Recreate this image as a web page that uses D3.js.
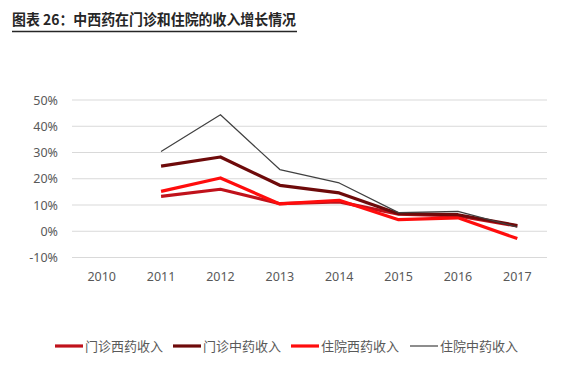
<!DOCTYPE html>
<html>
<head>
<meta charset="utf-8">
<script src="https://cdn.jsdelivr.net/npm/d3@7"></script>
<style>
  body { margin: 0; background: #fff; }
  text { font-family: "Noto Sans", "Noto Sans CJK SC", sans-serif; }
</style>
</head>
<body>
<script>
// 画布大小
const width = 565;
const height = 371;

// 数据
const years = ['2010', '2011', '2012', '2013', '2014', '2015', '2016', '2017'];
const yTicks = [-0.1, 0, 0.1, 0.2, 0.3, 0.4, 0.5];
const seriesNames = ['门诊西药收入', '门诊中药收入', '住院西药收入', '住院中药收入'];
const mzXiyao = [null, 0.133, 0.160, 0.105, 0.112, 0.065, 0.058, 0.020];
const mzZhongyao = [null, 0.248, 0.283, 0.175, 0.146, 0.067, 0.063, 0.022];
const zyXiyao = [null, 0.152, 0.203, 0.104, 0.118, 0.044, 0.051, -0.028];
const zyZhongyao = [null, 0.304, 0.444, 0.235, 0.184, 0.071, 0.076, 0.016];

const seriesValues = [mzXiyao, mzZhongyao, zyXiyao, zyZhongyao];
const colors = ['#c0121b', '#6e0a0a', '#ff0d0d', '#404040'];
const strokeW = [3.2, 3.2, 3.2, 1.2];

const svg = d3.select('body').append('svg')
  .attr('width', width)
  .attr('height', height);

// 标题
svg.append('text')
  .attr('x', 12)
  .attr('y', 25)
  .attr('font-size', 14.3)
  .attr('font-weight', 'bold')
  .attr('fill', '#262626')
  .attr('textLength', 284)
  .attr('lengthAdjust', 'spacingAndGlyphs')
  .style('font-family', '"Noto Sans CJK SC", sans-serif')
  .text('图表 26：中西药在门诊和住院的收入增长情况');

svg.append('line')
  .attr('x1', 12).attr('x2', 297)
  .attr('y1', 31.5).attr('y2', 31.5)
  .attr('stroke', '#262626')
  .attr('stroke-width', 1.3);

// 比例尺
const xScale = d3.scaleBand()
  .domain(years)
  .range([72, 547]);

const yScale = d3.scaleLinear()
  .domain([-0.1, 0.5])
  .range([257.5, 100]);

// 网格线
svg.append('g')
  .selectAll('line')
  .data(yTicks)
  .enter()
  .append('line')
  .attr('x1', 72)
  .attr('x2', 547)
  .attr('y1', d => yScale(d))
  .attr('y2', d => yScale(d))
  .attr('stroke', '#d9d9d9')
  .attr('stroke-width', 1);

// y轴
const yAxis = d3.axisLeft(yScale)
  .tickValues(yTicks)
  .tickFormat(d => Math.round(d * 100) + '%')
  .tickSize(0)
  .tickPadding(0);

svg.append('g')
  .attr('transform', 'translate(58,0)')
  .call(yAxis)
  .call(g => g.select('.domain').remove())
  .selectAll('text')
  .attr('font-size', 12.5)
  .attr('fill', '#595959')
  .style('font-family', '"Noto Sans", sans-serif');

// x轴
const xAxis = d3.axisBottom(xScale)
  .tickSize(0)
  .tickPadding(0);

svg.append('g')
  .attr('transform', 'translate(0,272)')
  .call(xAxis)
  .call(g => g.select('.domain').remove())
  .selectAll('text')
  .attr('font-size', 12.5)
  .attr('fill', '#595959')
  .style('font-family', '"Noto Sans", sans-serif');

// 折线
const line = d3.line()
  .defined(d => d.v !== null)
  .x(d => xScale(d.year) + xScale.bandwidth() / 2)
  .y(d => yScale(d.v));

// 绘制顺序：细线在最上层
const drawOrder = [0, 2, 1, 3];
drawOrder.forEach(function(i) {
  const pts = years.map((y, j) => ({ year: y, v: seriesValues[i][j] }));
  svg.append('path')
    .datum(pts)
    .attr('d', line)
    .attr('fill', 'none')
    .attr('stroke', colors[i])
    .attr('stroke-width', strokeW[i])
    .attr('stroke-linejoin', 'round');
});

// 图例
const legendX = [55, 173, 291, 410];
const legend = svg.append('g')
  .selectAll('g')
  .data(seriesNames)
  .enter()
  .append('g')
  .attr('transform', (d, i) => 'translate(' + legendX[i] + ',346)');

legend.append('line')
  .attr('x1', 0).attr('x2', 28)
  .attr('y1', 0).attr('y2', 0)
  .attr('stroke', (d, i) => colors[i])
  .attr('stroke-width', (d, i) => strokeW[i]);

legend.append('text')
  .attr('x', 30)
  .attr('y', 0)
  .attr('dy', '0.35em')
  .attr('font-size', 13)
  .attr('fill', '#595959')
  .style('font-family', '"Noto Sans CJK SC", sans-serif')
  .text(d => d);
</script>
</body>
</html>
